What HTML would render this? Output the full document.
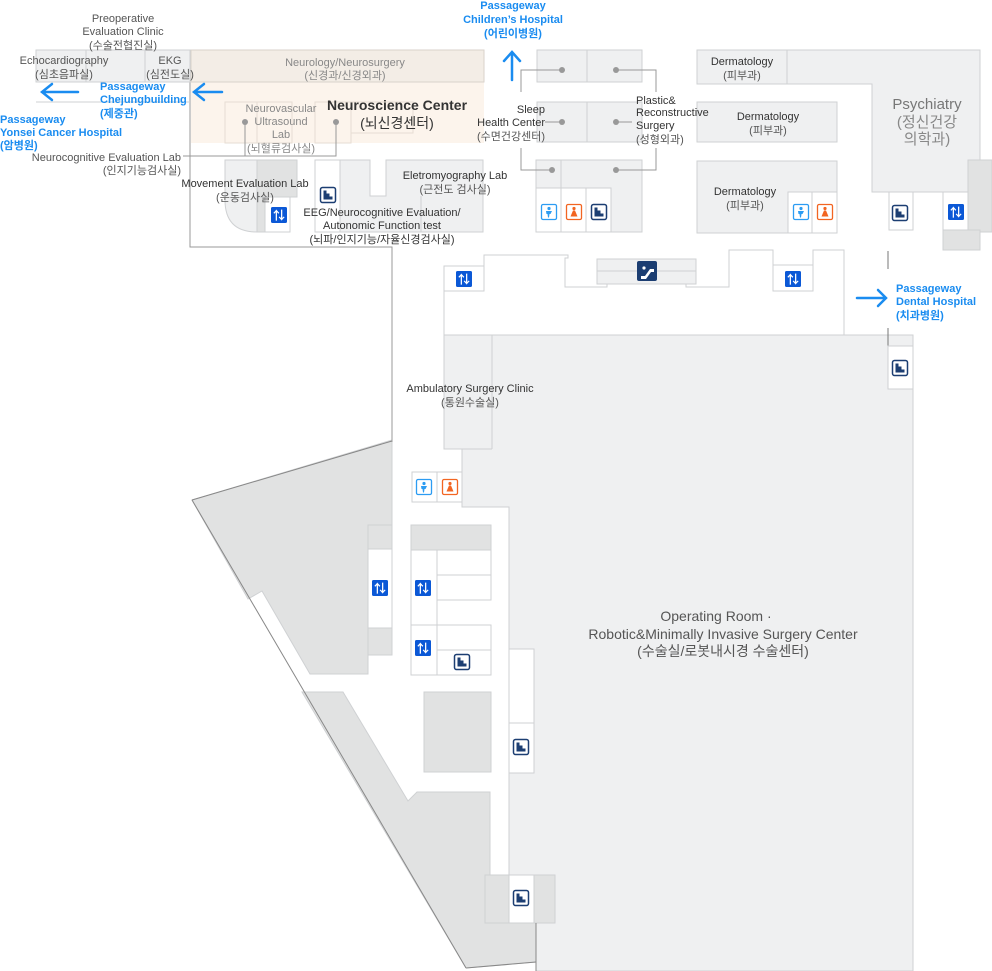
<!DOCTYPE html>
<html><head><meta charset="utf-8"><style>
html,body{margin:0;padding:0;background:#fff;}
svg{display:block;}
text{font-family:"Liberation Sans","Noto Sans CJK KR",sans-serif;font-size:11px;fill:#555;}
.c{text-anchor:middle;}
.b{fill:#1a8cf0;font-weight:bold;font-size:11px;}
.r{text-anchor:end;}
.g{fill:#eff0f1;stroke:#cfd1d3;stroke-width:1;}
.d{fill:#e1e2e2;stroke:#cfd1d3;stroke-width:1;}
.w{fill:#fff;stroke:#cfd1d3;stroke-width:1;}
.ln{stroke:#999;stroke-width:1;fill:none;}
</style></head><body>
<svg width="992" height="971" viewBox="0 0 992 971" xmlns="http://www.w3.org/2000/svg">
<defs>
<g id="el"><rect x="-8" y="-8" width="16" height="16" rx="1.5" fill="#0b58d6"/><text x="0" y="4.5" class="c" style="fill:#fff;font-size:12px;font-weight:bold">⇅</text></g>
<g id="st"><rect x="-7.5" y="-7.5" width="15" height="15" rx="2" fill="#fff" stroke="#1c3e72" stroke-width="1.5"/><path d="M-4.5,-4.5 h3 v3 h3 v3 h3 v3 h-9z" fill="#1c3e72"/></g>
<g id="ml"><rect x="-7.5" y="-7.5" width="15" height="15" rx="1.5" fill="#fff" stroke="#2c9cf2" stroke-width="1.3"/><circle cx="0" cy="-3.5" r="1.6" fill="#2c9cf2"/><path d="M-3,-1 h6 l-1.5,3 h-1 l-0.5,3.5 h-1 l-0.5,-3.5 h-1z" fill="#2c9cf2"/></g>
<g id="fm"><rect x="-7.5" y="-7.5" width="15" height="15" rx="1.5" fill="#fff" stroke="#f26522" stroke-width="1.3"/><circle cx="0" cy="-3.5" r="1.6" fill="#f26522"/><path d="M-1,-1.5 h2 l2.5,6 h-7z" fill="#f26522"/></g>
<g id="es"><rect x="-10" y="-10" width="20" height="20" rx="2" fill="#1c3e72"/><path d="M-6,5 h4 l5,-7 h4 v3 h-3 l-5,7 h-5z" fill="#fff"/><circle cx="-3" cy="-3" r="1.6" fill="#fff"/></g>
</defs>

<!-- lower-left grey polygon -->
<polygon points="192,500 392,440 392,525 368,525 368,674 310,674 262,591 248,599" class="d" stroke="#999"/>
<polygon points="302,692 343,692 408,801 417,792 490,792 490,875 485,875 485,923 536,923 536,962 466,968" class="d"/>
<line x1="192" y1="500" x2="466" y2="968" stroke="#888" stroke-width="1"/>
<line x1="466" y1="968" x2="536" y2="962" stroke="#888"/>
<line x1="192" y1="500" x2="392" y2="441" stroke="#888"/>

<!-- main building outline upper -->
<polyline points="190,50 190,247 392,247 392,442" class="ln" stroke="#777"/>
<line x1="190" y1="50" x2="484" y2="50" stroke="#888"/>

<!-- operating room region -->
<polygon points="444,335 913,335 913,971 536,971 536,875 509,875 509,507 462,507 462,449 444,449" class="g"/>
<line x1="492" y1="335" x2="492" y2="449" stroke="#cfd1d3"/>
<polyline points="492,449 462,449" stroke="#cfd1d3" fill="none"/>
<rect x="509" y="649" width="25" height="124" class="w" stroke-width="0"/>
<polyline points="509,649 534,649 534,773 509,773" fill="none" stroke="#cfd1d3"/>
<rect x="509" y="723" width="25" height="50" class="w"/>
<use href="#st" x="521" y="747"/>
<rect x="485" y="875" width="70" height="48" class="d"/>
<rect x="509" y="875" width="25" height="48" class="w"/>
<use href="#st" x="521" y="898"/>
<line x1="536" y1="923" x2="536" y2="971" stroke="#888"/>

<!-- toilets ambulatory -->
<rect x="412" y="472" width="25" height="30" class="w"/><rect x="437" y="472" width="25" height="30" class="w"/>
<use href="#ml" x="424" y="487"/><use href="#fm" x="450" y="487"/>

<!-- column at 368 -->
<rect x="368" y="525" width="24" height="24" class="d"/>
<rect x="368" y="549" width="24" height="79" class="w"/>
<rect x="368" y="628" width="24" height="27" class="d"/>
<use href="#el" x="380" y="588"/>

<!-- middle block -->
<rect x="411" y="525" width="80" height="25" class="d"/>
<rect x="411" y="550" width="26" height="75" class="w"/>
<rect x="437" y="550" width="54" height="25" class="w"/><rect x="437" y="575" width="54" height="25" class="w"/>
<rect x="411" y="625" width="26" height="50" class="w"/>
<rect x="437" y="625" width="54" height="25" class="w"/><rect x="437" y="650" width="54" height="25" class="w"/>
<use href="#el" x="423" y="588"/><use href="#el" x="423" y="648"/><use href="#st" x="462" y="662"/>
<rect x="424" y="692" width="67" height="80" class="d"/>

<!-- corridor -->
<polyline points="444,335 444,266 484,266 484,255 568,255 568,258 565,258 565,287 607,287 607,284" fill="none" stroke="#cfd1d3"/>
<polyline points="686,284 686,287 729,287 729,250 773,250 773,265" fill="none" stroke="#cfd1d3"/>
<polyline points="813,265 813,250 844,250 844,335" fill="none" stroke="#cfd1d3"/>
<rect x="444" y="266" width="40" height="25" class="w"/><use href="#el" x="464" y="279"/>
<rect x="597" y="259" width="99" height="25" class="g"/><line x1="597" y1="271" x2="696" y2="271" stroke="#cfd1d3"/><use href="#es" x="647" y="271"/>
<rect x="773" y="265" width="40" height="26" class="w"/><use href="#el" x="793" y="279"/>
<line x1="888" y1="251" x2="888" y2="269" stroke="#777"/>
<line x1="888" y1="328" x2="888" y2="346" stroke="#777"/>
<rect x="888" y="346" width="25" height="43" class="w"/><use href="#st" x="900" y="368"/>

<!-- left strip: echo / EKG -->
<rect x="36" y="50" width="154" height="32" class="g"/>
<line x1="86" y1="50" x2="86" y2="82" stroke="#cfd1d3"/><line x1="145" y1="50" x2="145" y2="82" stroke="#cfd1d3"/>
<line x1="36" y1="102" x2="190" y2="102" stroke="#cfd1d3"/>

<!-- neuroscience -->
<rect x="191" y="82" width="293" height="61" fill="#fcf4ec"/>
<rect x="191" y="50" width="293" height="32" fill="#f3ede6" stroke="#d8d2cb"/>
<rect x="225" y="102" width="32" height="41" fill="none" stroke="#e6ddd3"/>
<rect x="257" y="102" width="35" height="41" fill="none" stroke="#e6ddd3"/>
<rect x="315" y="102" width="36" height="41" fill="none" stroke="#e6ddd3"/>
<rect x="351" y="102" width="62" height="31" fill="none" stroke="#e6ddd3"/>
<circle cx="245" cy="122" r="3" fill="#999"/><circle cx="336" cy="122" r="3" fill="#999"/>
<polyline points="245,122 245,156 336,156 336,122" class="ln"/>
<line x1="183" y1="156" x2="245" y2="156" stroke="#999"/>

<!-- lower rooms left -->
<path d="M225,160 H290 V232 H257 Q225,232 225,200 Z" class="g"/>
<rect x="257" y="160" width="40" height="37" class="d"/>
<rect x="257" y="197" width="8" height="35" class="d"/>
<rect x="265" y="197" width="25" height="35" class="w"/>
<use href="#el" x="279" y="215"/>
<polygon points="340,160 370,160 370,196 386,196 386,160 483,160 483,232 340,232" class="g"/>
<line x1="421" y1="196" x2="421" y2="232" stroke="#cfd1d3"/>
<rect x="315" y="160" width="25" height="72" class="w"/>
<use href="#st" x="328" y="195"/>

<!-- sleep / plastic -->
<rect x="537" y="50" width="105" height="32" class="g"/><line x1="587" y1="50" x2="587" y2="82" stroke="#cfd1d3"/>
<rect x="537" y="102" width="105" height="40" class="g"/><line x1="587" y1="102" x2="587" y2="142" stroke="#cfd1d3"/>
<rect x="536" y="160" width="106" height="72" class="g"/>
<line x1="561" y1="160" x2="561" y2="188" stroke="#cfd1d3"/>
<rect x="536" y="188" width="25" height="44" class="w"/><rect x="561" y="188" width="25" height="44" class="w"/><rect x="586" y="188" width="25" height="44" class="w"/>
<use href="#ml" x="549" y="212"/><use href="#fm" x="574" y="212"/><use href="#st" x="599" y="212"/>
<circle cx="562" cy="70" r="3" fill="#999"/><circle cx="616" cy="70" r="3" fill="#999"/>
<circle cx="562" cy="122" r="3" fill="#999"/><circle cx="616" cy="122" r="3" fill="#999"/>
<circle cx="552" cy="170" r="3" fill="#999"/><circle cx="616" cy="170" r="3" fill="#999"/>
<polyline points="562,70 521,70 521,92" class="ln"/><polyline points="521,148 521,170 552,170" class="ln"/>
<polyline points="616,70 656,70 656,92" class="ln"/><polyline points="656,148 656,170 616,170" class="ln"/>
<line x1="545" y1="122" x2="562" y2="122" class="ln"/><line x1="616" y1="122" x2="632" y2="122" class="ln"/>

<!-- dermatology / psychiatry -->
<polygon points="697,50 980,50 980,192 872,192 872,84 697,84" class="g" stroke="#999"/>
<line x1="787" y1="50" x2="787" y2="84" stroke="#cfd1d3"/>
<rect x="697" y="102" width="140" height="40" class="g"/>
<rect x="697" y="161" width="140" height="72" class="g"/>
<rect x="788" y="192" width="24" height="41" class="w"/><rect x="812" y="192" width="25" height="41" class="w"/>
<use href="#ml" x="801" y="212"/><use href="#fm" x="825" y="212"/>
<rect x="889" y="192" width="24" height="38" class="w"/><use href="#st" x="900" y="213"/>
<rect x="968" y="160" width="24" height="72" class="d" stroke="#999"/>
<rect x="943" y="230" width="37" height="20" class="d" stroke="#999"/>
<rect x="943" y="192" width="25" height="38" class="w"/><use href="#el" x="956" y="212"/>

<!-- arrows -->
<g stroke="#1a8cf0" stroke-width="2.5" fill="none" stroke-linecap="round">
<path d="M78,92 H42 M52,84 L42,92 L52,100"/>
<path d="M222,92 H194 M204,84 L194,92 L204,100"/>
<path d="M512,80 V52 M504,61 L512,52 L520,61"/>
<path d="M857,298 H886 M878,290 L886,298 L878,306"/>
</g>

<!-- texts -->
<text x="123" y="22" class="c">Preoperative</text>
<text x="123" y="35" class="c">Evaluation Clinic</text>
<text x="123" y="49" class="c">(수술전협진실)</text>
<text x="64" y="64" class="c">Echocardiography</text>
<text x="64" y="78" class="c">(심초음파실)</text>
<text x="170" y="64" class="c">EKG</text>
<text x="170" y="78" class="c">(심전도실)</text>
<text x="100" y="90" class="b">Passageway</text>
<text x="100" y="103" class="b">Chejungbuilding</text>
<text x="100" y="117" class="b">(제중관)</text>
<text x="0" y="123" class="b">Passageway</text>
<text x="0" y="136" class="b">Yonsei Cancer Hospital</text>
<text x="0" y="149" class="b">(암병원)</text>
<text x="181" y="161" class="r">Neurocognitive Evaluation Lab</text>
<text x="181" y="174" class="r">(인지기능검사실)</text>
<text x="345" y="66" class="c" style="fill:#888">Neurology/Neurosurgery</text>
<text x="345" y="79" class="c" style="fill:#888">(신경과/신경외과)</text>
<text x="281" y="112" class="c" style="fill:#888">Neurovascular</text>
<text x="281" y="125" class="c" style="fill:#888">Ultrasound</text>
<text x="281" y="138" class="c" style="fill:#888">Lab</text>
<text x="281" y="152" class="c" style="fill:#888">(뇌혈류검사실)</text>
<text x="397" y="110" class="c" style="font-size:14px;fill:#333;font-weight:bold">Neuroscience Center</text>
<text x="397" y="128" class="c" style="font-size:14px;fill:#333">(뇌신경센터)</text>
<text x="245" y="187" class="c" style="fill:#333">Movement Evaluation Lab</text>
<text x="245" y="201" class="c">(운동검사실)</text>
<text x="455" y="179" class="c" style="fill:#333">Eletromyography Lab</text>
<text x="455" y="193" class="c">(근전도 검사실)</text>
<text x="382" y="216" class="c" style="fill:#333">EEG/Neurocognitive Evaluation/</text>
<text x="382" y="229" class="c" style="fill:#333">Autonomic Function test</text>
<text x="382" y="243" class="c" style="fill:#333">(뇌파/인지기능/자율신경검사실)</text>
<text x="513" y="9" class="c b">Passageway</text>
<text x="513" y="23" class="c b">Children’s Hospital</text>
<text x="513" y="37" class="c b">(어린이병원)</text>
<text x="545" y="113" class="r" style="fill:#333">Sleep</text>
<text x="545" y="126" class="r" style="fill:#333">Health Center</text>
<text x="545" y="140" class="r">(수면건강센터)</text>
<text x="636" y="104" style="fill:#333">Plastic&amp;</text>
<text x="636" y="116" style="fill:#333">Reconstructive</text>
<text x="636" y="129" style="fill:#333">Surgery</text>
<text x="636" y="143">(성형외과)</text>
<text x="742" y="65" class="c" style="fill:#333">Dermatology</text>
<text x="742" y="79" class="c">(피부과)</text>
<text x="768" y="120" class="c" style="fill:#333">Dermatology</text>
<text x="768" y="134" class="c">(피부과)</text>
<text x="745" y="195" class="c" style="fill:#333">Dermatology</text>
<text x="745" y="209" class="c">(피부과)</text>
<text x="927" y="109" class="c" style="font-size:15px;fill:#777">Psychiatry</text>
<text x="927" y="127" class="c" style="font-size:15px;fill:#888">(정신건강</text>
<text x="927" y="144" class="c" style="font-size:15px;fill:#888">의학과)</text>
<text x="896" y="292" class="b">Passageway</text>
<text x="896" y="305" class="b">Dental Hospital</text>
<text x="896" y="319" class="b">(치과병원)</text>
<text x="470" y="392" class="c" style="fill:#333">Ambulatory Surgery Clinic</text>
<text x="470" y="406" class="c">(통원수술실)</text>
<text x="716" y="621" class="c" style="font-size:14px;fill:#555">Operating Room ·</text>
<text x="723" y="639" class="c" style="font-size:14px;fill:#555">Robotic&amp;Minimally Invasive Surgery Center</text>
<text x="723" y="656" class="c" style="font-size:14px;fill:#555">(수술실/로봇내시경 수술센터)</text>
</svg>
</body></html>
